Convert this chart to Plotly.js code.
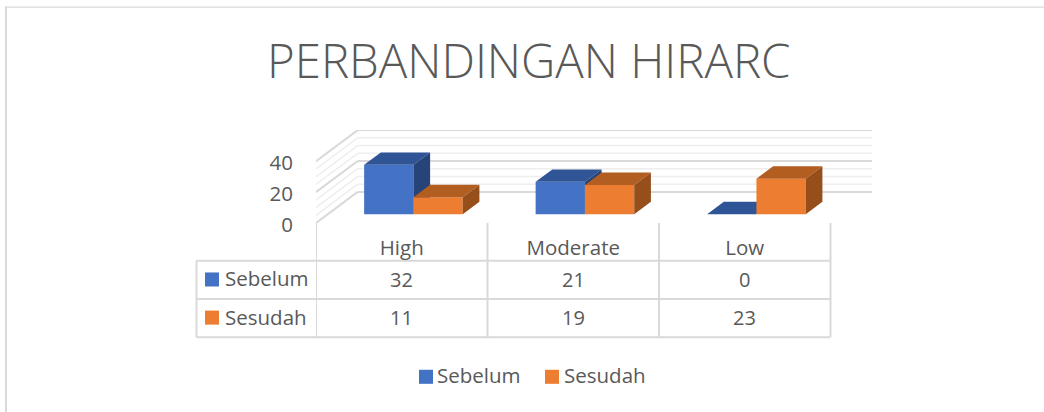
<!DOCTYPE html>
<html><head><meta charset="utf-8">
<script src="https://cdn.plot.ly/plotly-3.0.1.min.js"></script>
<style>html,body{margin:0;padding:0;background:#fff}#c{width:1044px;height:412px}</style>
</head><body><div id="c"></div>
<script>
// --- data ---
const categories = ['High', 'Moderate', 'Low'];
const sebelum = [32, 21, 0];
const sesudah = [11, 19, 23];
const seriesNames = ['Sebelum', 'Sesudah'];
const yTicks = [0, 20, 40];
const titleText = 'PERBANDINGAN HIRARC';

// --- style ---
const W = 1044, H = 412;
const FONT = '"Open Sans", "Noto Sans", sans-serif';
const TXT = '#595959', GRID = '#d9d9d9', GRID2 = '#eeeeee';
const BLUE = {front:'#4472c4', top:'#2f5597', side:'#264478'};
const ORANGE = {front:'#ed7d31', top:'#b25e20', side:'#964f1b'};
const L = 316, R = 872, T = 130, B = 222.7;
const catPx = 171.5, valPx = 1.54;
const wallDx = 41.7 / catPx, wallDy = 31 / valPx;   // wall depth in axis units
const barW = 49.3 / catPx;
const dNear = 0.28, dFar = 0.68;
const px2x = p => (p - L) / (R - L), py2y = p => (B - p) / (B - T);

function faces(xs, ys, sign, colors, name, xa, ya) {
  const proj = (x, v, d) => [x + wallDx * d, v + wallDy * d];
  const top = {x: [], y: []}, side = {x: [], y: []};
  ys.forEach((v, i) => {
    const x0 = i + (sign < 0 ? -barW : 0), x1 = x0 + barW;
    [[x0, v, dNear], [x1, v, dNear], [x1, v, dFar], [x0, v, dFar], [x0, v, dNear]].forEach(p => {
      const q = proj(p[0], p[1], p[2]); top.x.push(q[0]); top.y.push(q[1]);
    });
    top.x.push(null); top.y.push(null);
    if (v > 0) {
      [[x1, 0, dNear], [x1, v, dNear], [x1, v, dFar], [x1, 0, dFar], [x1, 0, dNear]].forEach(p => {
        const q = proj(p[0], p[1], p[2]); side.x.push(q[0]); side.y.push(q[1]);
      });
      side.x.push(null); side.y.push(null);
    }
  });
  const poly = (d, c) => ({type:'scatter', mode:'lines', x:d.x, y:d.y, fill:'toself', fillcolor:c,
    line:{width:0, color:c}, hoverinfo:'skip', showlegend:false, xaxis:xa, yaxis:ya, cliponaxis:false});
  const bar = {type:'bar', name, x: ys.map((_, i) => i + wallDx * dNear + sign * barW / 2),
    y: ys, base: ys.map(() => wallDy * dNear), width: ys.map(() => barW),
    marker:{color:colors.front, line:{width:0}}, xaxis:xa, yaxis:ya, cliponaxis:false, showlegend:false};
  return [bar, poly(top, colors.top), poly(side, colors.side)];
}

const traces = [
  ...faces(categories, sebelum, -1, BLUE, seriesNames[0], 'x', 'y'),
  ...faces(categories, sesudah, 1, ORANGE, seriesNames[1], 'x2', 'y2'),
];

// --- walls & table ---
const shapes = [];
const seg = (x0, y0, x1, y1, color, width, xref, yref) =>
  shapes.push({type:'line', layer:'below', x0, y0, x1, y1, xref, yref, line:{color, width}});
const xMin = -0.5, xMax = (R - L) / catPx - 0.5;
for (let v = 0; v <= 40; v += 5) {
  const major = v % 20 === 0, c = major ? GRID : GRID2, w = major ? 2 : 1.5;
  seg(xMin, v, xMin + wallDx, v + wallDy, c, w, 'x', 'y');
  seg(xMin + wallDx, v + wallDy, xMax, v + wallDy, c, w, 'x', 'y');
}
const tb = {rowTop: 260.3, row1: 298.5, bot: 336.7, left: 196.5};
[tb.rowTop, tb.row1, tb.bot].forEach(p => seg(px2x(tb.left), py2y(p), px2x(829.8), py2y(p), GRID, 2, 'paper', 'paper'));
[-0.5, 0.5, 1.5, 2.5].forEach(c => seg(c, py2y(B), c, py2y(tb.bot), GRID, 2, 'x', 'paper'));
seg(px2x(tb.left), py2y(tb.rowTop), px2x(tb.left), py2y(tb.bot), GRID, 2, 'paper', 'paper');
// chart frame
seg(px2x(5), py2y(7.5), px2x(1044), py2y(7.5), GRID, 1.2, 'paper', 'paper');
seg(px2x(6), py2y(7), px2x(6), py2y(412), GRID, 2, 'paper', 'paper');

const rect = (x0, y0, x1, y1, c) => shapes.push({type:'rect', layer:'above', xref:'paper', yref:'paper',
  x0: px2x(x0), x1: px2x(x1), y0: py2y(y0), y1: py2y(y1), fillcolor:c, line:{width:0}});
rect(205, 272, 219, 286, BLUE.front);
rect(205, 310, 219, 324, ORANGE.front);
rect(419, 369, 433, 383, BLUE.front);
rect(545, 369, 559, 383, ORANGE.front);

// --- text ---
const ann = [];
const note = (text, px, py, anchor, size, xref, x) => ann.push({text, showarrow:false,
  xref: xref || 'paper', yref:'paper', x: xref ? x : px2x(px), y: py2y(py),
  xanchor: anchor, yanchor:'middle', font:{family:FONT, size, color:TXT}});
note(seriesNames[0], 222.5, 277.5, 'left', 20.5);
note(seriesNames[1], 222.5, 316, 'left', 20.5);
note(seriesNames[0], 435, 374.5, 'left', 20.5);
note(seriesNames[1], 562, 374.5, 'left', 20.5);
categories.forEach((c, i) => {
  note(String(sebelum[i]), 0, 279, 'center', 20, 'x', i);
  note(String(sesudah[i]), 0, 317, 'center', 20, 'x', i);
});

const axis = {showgrid:false, zeroline:false, showline:false};
const layout = {
  width: W, height: H,
  margin: {l: L, r: W - R, t: T, b: H - B, pad: 0},
  paper_bgcolor:'#fff', plot_bgcolor:'rgba(0,0,0,0)',
  showlegend:false, barmode:'overlay',
  title: {text: titleText, x: 0.5065, xanchor:'center', y: 1 - 61 / H, yanchor:'middle',
          font:{family:FONT, size:47.4, weight:300, color:TXT}},
  xaxis: {...axis, range:[xMin, xMax], tickmode:'array', tickvals:[0,1,2], ticktext:categories,
          ticks:'outside', ticklen:6, tickcolor:'rgba(0,0,0,0)', tickfont:{family:FONT, size:20.5, color:TXT}},
  yaxis: {...axis, range:[0, (B - T) / valPx], tickmode:'array', tickvals:yTicks, ticktext:yTicks.map(String),
          ticks:'outside', ticklen:18, tickcolor:'rgba(0,0,0,0)', ticklabelshift:2, tickfont:{family:FONT, size:20.5, color:TXT}},
  xaxis2: {...axis, overlaying:'x', matches:'x', showticklabels:false, side:'bottom'},
  yaxis2: {...axis, overlaying:'y', matches:'y', showticklabels:false},
  shapes, annotations: ann, hovermode:false,
};
Plotly.newPlot('c', traces, layout, {staticPlot:true, displayModeBar:false});
</script></body></html>
